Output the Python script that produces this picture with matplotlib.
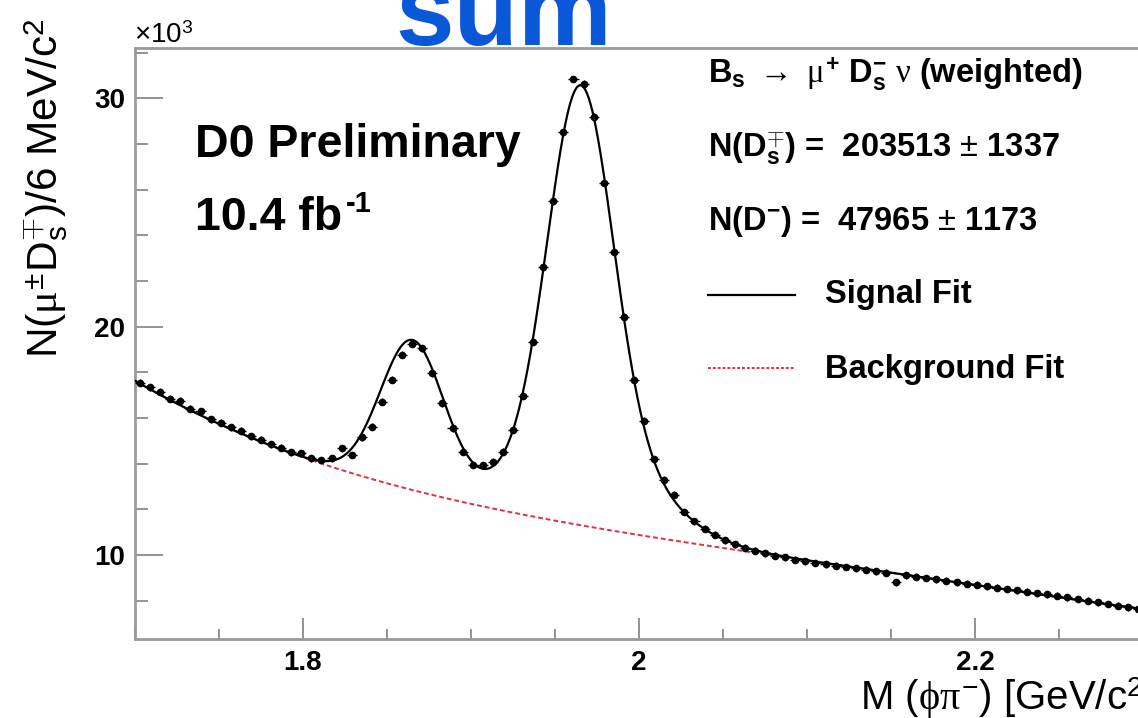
import numpy as np
import matplotlib
matplotlib.use("Agg")
from matplotlib import pyplot as plt
from matplotlib.ticker import MultipleLocator

plt.rcParams['font.family'] = ['Liberation Sans', 'DejaVu Sans']
plt.rcParams['mathtext.fontset'] = 'custom'
plt.rcParams['mathtext.rm'] = 'Liberation Sans'
plt.rcParams['mathtext.it'] = 'Liberation Serif'
plt.rcParams['mathtext.bf'] = 'Liberation Sans:bold'

# weighted candidates per 6 MeV bin, in units of 10^3, bins from 1.70 to 2.30 GeV
bin_width = 0.006
counts = [
    17.55, 17.35, 17.15, 16.85, 16.75, 16.40, 16.30, 15.95, 15.80, 15.60,
    15.45, 15.20, 15.05, 14.85, 14.70, 14.50, 14.45, 14.24, 14.16, 14.24,
    14.67, 14.38, 15.16, 15.62, 16.71, 17.67, 18.76, 19.24, 19.05, 17.96,
    16.64, 15.55, 14.52, 13.94, 13.94, 14.09, 14.52, 15.47, 16.96, 19.34,
    22.60, 25.48, 28.50, 30.84, 30.63, 29.20, 26.31, 23.27, 20.44, 17.67,
    15.88, 14.19, 13.29, 12.63, 11.88, 11.48, 11.15, 10.89, 10.65, 10.47,
    10.32, 10.19, 10.07, 9.97, 9.89, 9.80, 9.72, 9.65, 9.59, 9.53,
    9.47, 9.41, 9.35, 9.29, 9.23, 8.80, 9.11, 9.05, 8.99, 8.93,
    8.87, 8.81, 8.75, 8.69, 8.63, 8.57, 8.51, 8.45, 8.39, 8.33,
    8.27, 8.21, 8.14, 8.07, 8.00, 7.92, 7.85, 7.78, 7.71, 7.64,
]
count_err = 0.15

# background shape sampled along the dashed curve
bg_mass = [1.70, 1.75, 1.80, 1.85, 1.90, 1.95, 2.00, 2.05, 2.10, 2.15, 2.20, 2.25, 2.30]
bg_level = [17.6, 15.85, 14.2, 13.05, 12.3, 11.55, 10.9, 10.3, 9.7, 9.2, 8.7, 8.2, 7.6]

# peak parameters: (mean, sigma, height)
dplus_peak = (1.865, 0.019, 6.5)
ds_core = (1.965, 0.019, 15.3)
ds_tail = (1.970, 0.037, 4.0)

mass = 1.70 + bin_width * (np.arange(len(counts)) + 0.5)

bg_coef = np.polyfit(bg_mass, bg_level, 4)


def gauss(x, peak):
    mu, sigma, h = peak
    return h * np.exp(-0.5 * ((x - mu) / sigma) ** 2)


xf = np.linspace(1.70, 2.30, 1200)
bg_fit = np.polyval(bg_coef, xf)
sig_fit = bg_fit + gauss(xf, dplus_peak) + gauss(xf, ds_core) + gauss(xf, ds_tail)

W, H = 1138, 718
fig = plt.figure(figsize=(W / 100, H / 100), dpi=100)
ax = fig.add_axes([135 / W, 1 - 639 / H, 1 - 135 / W, (639 - 48) / H])

ax.plot(xf, bg_fit, color='#e0323c', lw=1.4, ls=(0, (2.5, 1.5)), zorder=2)
ax.plot(xf, sig_fit, color='black', lw=1.6, zorder=3)
ax.errorbar(mass, counts, yerr=count_err, xerr=bin_width / 2, fmt='o', color='black',
            ms=4.5, lw=1.0, capsize=0, zorder=4)

ax.set_xlim(1.70, 2.297)
ax.set_ylim(6.32, 32.2)

ax.xaxis.set_major_locator(MultipleLocator(0.2))
ax.xaxis.set_minor_locator(MultipleLocator(0.05))
ax.yaxis.set_major_locator(MultipleLocator(10))
ax.yaxis.set_minor_locator(MultipleLocator(2))
ax.xaxis.set_major_formatter(plt.FuncFormatter(lambda v, p: f"{v:g}"))

ax.tick_params(axis='both', which='both', direction='in', color='#808080', width=1.2,
               labelsize=20, top=False, right=False)
ax.tick_params(axis='y', which='major', length=20, pad=7)
ax.tick_params(axis='y', which='minor', length=9.5)
ax.tick_params(axis='x', which='major', length=15, pad=8)
ax.tick_params(axis='x', which='minor', length=7.5)
for lab in ax.get_xticklabels() + ax.get_yticklabels():
    lab.set_fontweight('bold')

for side in ('left', 'bottom', 'top'):
    ax.spines[side].set_color('#9a9a9a')
    ax.spines[side].set_linewidth(2)
ax.spines['right'].set_visible(False)

fig.text(134 / W, 1 - 43 / H, r'$\times$10$^{\mathrm{3}}$', fontsize=20, ha='left', va='baseline')

fig.text(46 / W, 1 - 18 / H, r'N($\mu^{\pm}$D$_{\mathrm{s}}^{\mp}$)/6 MeV/c$^{\mathrm{2}}$',
         rotation=90, fontsize=30.5, ha='center', va='top')
fig.text(860 / W, 1 - 710 / H, r'M ($\phi\pi^{\mathrm{-}}$) [GeV/c$^{\mathrm{2}}$]',
         fontsize=29, ha='left', va='baseline')

ax.text(195 / W, 1 - 157 / H, 'D0 Preliminary', transform=fig.transFigure,
        fontsize=33.5, fontweight='bold', ha='left', va='baseline')
ax.text(195 / W, 1 - 230 / H, '10.4 fb', transform=fig.transFigure,
        fontsize=33.5, fontweight='bold', ha='left', va='baseline')
ax.text(346 / W, 1 - 212 / H, '-1', transform=fig.transFigure,
        fontsize=21, fontweight='bold', ha='left', va='baseline')

leg_x = 708 / W
leg_fs = 23.5
fig.text(leg_x, 1 - 83 / H,
         r'B$_{\mathbf{s}}$ $\rightarrow$ $\mu^{\mathbf{+}}$ D$_{\mathbf{s}}^{\mathbf{-}}$ $\nu$ (weighted)',
         fontsize=leg_fs, fontweight='bold', ha='left', va='baseline')
fig.text(leg_x, 1 - 157 / H,
         r'N(D$_{\mathbf{s}}^{\mp}$) =  203513 $\pm$ 1337',
         fontsize=leg_fs, fontweight='bold', ha='left', va='baseline')
fig.text(leg_x, 1 - 230 / H,
         r'N(D$^{\mathbf{-}}$) =  47965 $\pm$ 1173',
         fontsize=leg_fs, fontweight='bold', ha='left', va='baseline')
fig.add_artist(plt.Line2D([708 / W, 795 / W], [1 - 295 / H] * 2, color='black', lw=1.6))
fig.add_artist(plt.Line2D([708 / W, 795 / W], [1 - 368 / H] * 2, color='#e0323c', lw=1.4,
                          ls=(0, (1.5, 1))))
fig.text(825 / W, 1 - 303 / H, 'Signal Fit', fontsize=leg_fs, fontweight='bold', ha='left', va='baseline')
fig.text(825 / W, 1 - 378 / H, 'Background Fit', fontsize=leg_fs, fontweight='bold', ha='left', va='baseline')

fig.text(395 / W, 1 - 45 / H, 'sum', fontsize=76, fontweight='bold', color='#0a57d8',
         ha='left', va='baseline')

fig.savefig('out.png', dpi=100)
